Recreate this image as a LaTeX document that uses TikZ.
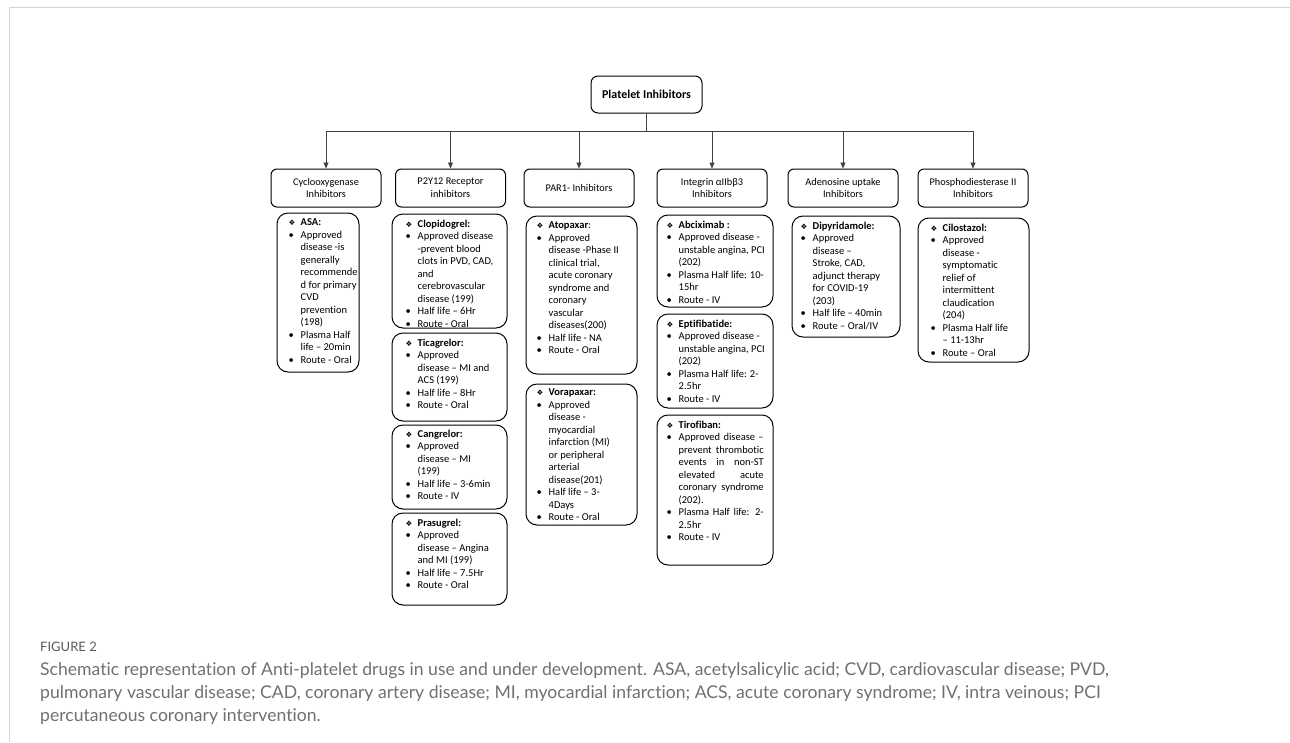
\documentclass[tikz,border=0pt]{standalone}
\usepackage{fontspec}
\setmainfont{Carlito}[Ligatures=NoCommon]
\newfontfamily\capfont{Lato}[Ligatures=NoCommon]
\newfontfamily\symfont{DejaVu Sans}
\usetikzlibrary{arrows.meta,fit,calc}
\definecolor{framegray}{HTML}{D4D4D4}
\definecolor{capgray}{HTML}{707070}
\definecolor{figgray}{HTML}{5A5A5A}
\definecolor{linegray}{HTML}{404040}
\newcommand{\dia}{\makebox[12pt][l]{\symfont\fontsize{7.5}{7.5}\selectfont ❖}}
\newcommand{\bu}{\makebox[12pt][l]{•}}
\newcommand{\ii}{\hspace*{12pt}}
\newcommand{\js}[1]{\makebox[85pt][s]{#1}}
\begin{document}
\begin{tikzpicture}[x=1pt,y=-1pt,
  topbox/.style={draw, line width=1pt, rounded corners=7pt, minimum width=111pt, minimum height=37pt, inner sep=0, font=\fontsize{12}{14}\selectfont\bfseries},
  catbox/.style={draw, line width=1pt, rounded corners=6pt, minimum width=110pt, minimum height=38pt, align=center, inner sep=0, font=\fontsize{10.3}{12.8}\selectfont},
  dbox/.style={draw, line width=1pt, rounded corners=11pt, inner sep=0},
  dtext/.style={anchor=north west, align=left, inner sep=0, font=\fontsize{10.5}{12.5}\selectfont},
  conn/.style={draw=linegray, line width=0.8pt},
  arr/.style={conn, -{Triangle[length=6pt,width=5pt]}},
  captext/.style={anchor=base west, inner sep=0, text=capgray, font=\capfont\fontsize{17.6}{20}\selectfont}]

\useasboundingbox (0,0) rectangle (1290,742);
\draw[framegray, line width=1.5pt] (9.5,742) -- (9.5,7.5) -- (1290,7.5);

% top
\node[topbox] (pi) at (646.5,94.5) {Platelet Inhibitors};
\coordinate (j) at (646.5,131);

% categories
\node[catbox] (c1) at (326,188) {Cyclooxygenase\\Inhibitors};
\node[catbox] (c2) at (450.5,188) {P2Y12 Receptor\\inhibitors};
\node[catbox] (c3) at (579,188) {PAR1- Inhibitors};
\node[catbox] (c4) at (712,188) {Integrin αIIbβ3\\Inhibitors};
\node[catbox] (c5) at (843,188) {Adenosine uptake\\Inhibitors};
\node[catbox] (c6) at (973,188) {Phosphodiesterase II\\Inhibitors};

\draw[conn] (pi.south) -- (j);
\foreach \c in {c1,c2,c3,c4,c5,c6} \draw[arr] (j) -| (\c.north);

% column 1
\node[dbox, fit={(277,213) (359,372)}] (asa) {};
\node[dtext] (asat) at ([shift={(12,6)}]asa.north west) {\dia\textbf{ASA:}\\
\bu Approved\\ \ii disease -is\\ \ii generally\\ \ii recommende\\ \ii d for primary\\ \ii CVD\\ \ii prevention\\ \ii (198)\\
\bu Plasma Half\\ \ii life – 20min\\
\bu Route - Oral};

% column 2
\node[dbox, fit={(392,214) (507,328)}] (clo) {};
\node[dtext] (clot) at ([shift={(14,6)}]clo.north west) {\dia\textbf{Clopidogrel:}\\
\bu Approved disease\\ \ii -prevent blood\\ \ii clots in PVD, CAD,\\ \ii and\\ \ii cerebrovascular\\ \ii disease (199)\\
\bu Half life – 6Hr\\
\bu Route - Oral};

\node[dbox, fit={(392,333) (507,421)}] (tic) {};
\node[dtext] (tict) at ([shift={(14,6)}]tic.north west) {\dia\textbf{Ticagrelor:}\\
\bu Approved\\ \ii disease – MI and\\ \ii ACS (199)\\
\bu Half life – 8Hr\\
\bu Route - Oral};

\node[dbox, fit={(392,425) (507,509)}] (can) {};
\node[dtext] (cant) at ([shift={(14,5)}]can.north west) {\dia\textbf{Cangrelor:}\\
\bu Approved\\ \ii disease – MI\\ \ii (199)\\
\bu Half life – 3-6min\\
\bu Route - IV};

\node[dbox, fit={(392,513) (507,605)}] (pra) {};
\node[dtext] (prat) at ([shift={(14,6)}]pra.north west) {\dia\textbf{Prasugrel:}\\
\bu Approved\\ \ii disease – Angina\\ \ii and MI (199)\\
\bu Half life – 7.5Hr\\
\bu Route - Oral};

% column 3
\node[dbox, fit={(526,216) (637,374)}] (ato) {};
\node[dtext] (atot) at ([shift={(11,6)}]ato.north west) {\dia\textbf{Atopaxar}:\\
\bu Approved\\ \ii disease -Phase II\\ \ii clinical trial,\\ \ii acute coronary\\ \ii syndrome and\\ \ii coronary\\ \ii vascular\\ \ii diseases(200)\\
\bu Half life - NA\\
\bu Route - Oral};

\node[dbox, fit={(526,384) (637,525)}] (vor) {};
\node[dtext] (vort) at ([shift={(11,5)}]vor.north west) {\dia\textbf{Vorapaxar:}\\
\bu Approved\\ \ii disease -\\ \ii myocardial\\ \ii infarction (MI)\\ \ii or peripheral\\ \ii arterial\\ \ii disease(201)\\
\bu Half life – 3-\\ \ii 4Days\\
\bu Route - Oral};

% column 4
\node[dbox, fit={(657,215) (773,307)}] (abc) {};
\node[dtext] (abct) at ([shift={(10,6)}]abc.north west) {\dia\textbf{Abciximab :}\\
\bu Approved disease -\\ \ii unstable angina, PCI\\ \ii (202)\\
\bu Plasma Half life: 10-\\ \ii 15hr\\
\bu Route - IV};

\node[dbox, fit={(657,314) (773,408)}] (ept) {};
\node[dtext] (eptt) at ([shift={(10,6)}]ept.north west) {\dia\textbf{Eptifibatide:}\\
\bu Approved disease -\\ \ii unstable angina, PCI\\ \ii (202)\\
\bu Plasma Half life: 2-\\ \ii 2.5hr\\
\bu Route - IV};

\node[dbox, fit={(657,415) (773,565)}] (tir) {};
\node[dtext] (tirt) at ([shift={(10,6)}]tir.north west) {\dia\textbf{Tirofiban:}\\
\bu \js{Approved disease –}\\ \ii \js{prevent thrombotic}\\ \ii \js{events in non-ST}\\ \ii \js{elevated acute}\\ \ii \js{coronary syndrome}\\ \ii (202).\\
\bu \js{Plasma Half life: 2-}\\ \ii 2.5hr\\
\bu Route - IV};

% column 5
\node[dbox, fit={(792,216) (900,337)}] (dip) {};
\node[dtext] (dipt) at ([shift={(9,6)}]dip.north west) {\dia\textbf{Dipyridamole:}\\
\bu Approved\\ \ii disease –\\ \ii Stroke, CAD,\\ \ii adjunct therapy\\ \ii for COVID-19\\ \ii (203)\\
\bu Half life – 40min\\
\bu Route – Oral/IV};

% column 6
\node[dbox, fit={(918,218) (1029,362)}] (cil) {};
\node[dtext] (cilt) at ([shift={(13,6)}]cil.north west) {\dia\textbf{Cilostazol:}\\
\bu Approved\\ \ii disease -\\ \ii symptomatic\\ \ii relief of\\ \ii intermittent\\ \ii claudication\\ \ii (204)\\
\bu Plasma Half life\\ \ii – 11-13hr\\
\bu Route – Oral};

% caption
\node[anchor=base west, inner sep=0, text=figgray, font=\capfont\fontsize{13}{15}\selectfont] (fig) at (40,651) {FIGURE 2};
\node[captext] (cap1) at (40,675) {Schematic representation of Anti-platelet drugs in use and under development. ASA, acetylsalicylic acid; CVD, cardiovascular disease; PVD,};
\node[captext] (cap2) at (40,698) {pulmonary vascular disease; CAD, coronary artery disease; MI, myocardial infarction; ACS, acute coronary syndrome; IV, intra veinous; PCI};
\node[captext] (cap3) at (40,721) {percutaneous coronary intervention.};
\end{tikzpicture}
\end{document}
